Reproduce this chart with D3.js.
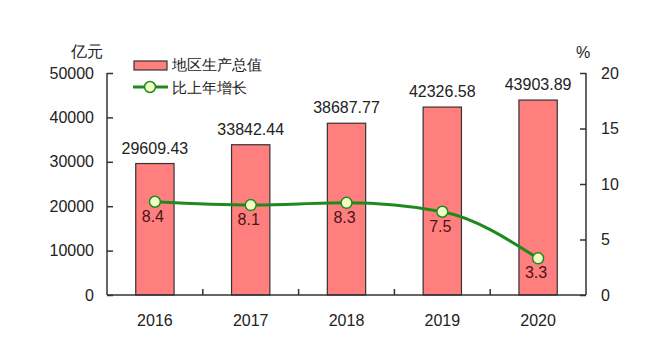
<!DOCTYPE html>
<html><head><meta charset="utf-8">
<script src="https://cdn.jsdelivr.net/npm/d3@7"></script>
<style>body{margin:0;background:#fff;}svg{display:block;font-family:"Liberation Sans",Arial,sans-serif;}</style>
</head><body>
<script>
const years = ["2016","2017","2018","2019","2020"];
const gdp = [29609.43, 33842.44, 38687.77, 42326.58, 43903.89];
const growth = [8.4, 8.1, 8.3, 7.5, 3.3];
const leftTicks = [0,10000,20000,30000,40000,50000];
const rightTicks = [0,5,10,15,20];

const W = 648, H = 359;
const svg = d3.select("body").append("svg").attr("width", W).attr("height", H);
const x0 = 107, x1 = 586, yTop = 73, yBot = 295;
const x = d3.scaleBand().domain(years).range([x0, x1]).paddingInner(0.6).paddingOuter(0.3);
const xb = d3.scaleBand().domain(years).range([x0, x1]);
const yL = d3.scaleLinear().domain([0, 50000]).range([yBot, yTop]);
const yR = d3.scaleLinear().domain([0, 20]).range([yBot, yTop]);
const ink = "#333";

// bars
svg.append("g").selectAll("rect").data(years).join("rect")
  .attr("x", d => x(d)).attr("width", x.bandwidth())
  .attr("y", (d,i) => yL(gdp[i])).attr("height", (d,i) => yBot - yL(gdp[i]))
  .attr("fill", "#ff7f7f").attr("stroke", ink).attr("stroke-width", 1.2);

svg.append("g").selectAll("text").data(years).join("text")
  .attr("x", d => x(d) + x.bandwidth()/2).attr("y", (d,i) => yL(gdp[i]) - 10)
  .attr("text-anchor","middle").attr("font-size",16).attr("fill","#222")
  .text((d,i) => gdp[i].toFixed(2));

// axes
const axL = svg.append("g").attr("transform",`translate(${x0},0)`)
  .call(d3.axisLeft(yL).tickValues(leftTicks).tickSize(-6).tickPadding(13).tickFormat(d3.format("d")));
const axR = svg.append("g").attr("transform",`translate(${x1},0)`)
  .call(d3.axisRight(yR).tickValues(rightTicks).tickSize(-6).tickPadding(15));
const axB = svg.append("g").attr("transform",`translate(0,${yBot})`)
  .call(d3.axisBottom(xb).tickSize(0).tickPadding(20));
[axL, axR, axB].forEach(a => {
  a.select(".domain").attr("stroke", ink).attr("stroke-width", 1.5);
  a.selectAll(".tick line").attr("stroke", ink).attr("stroke-width", 1.5);
  a.selectAll("text").attr("font-size", 16).attr("fill", "#222").attr("font-family","Liberation Sans, Arial, sans-serif");
});
axL.select(".domain").attr("d", `M0,${yTop}V${yBot}`);
axR.select(".domain").attr("d", `M0,${yTop}V${yBot}`);
axB.select(".domain").attr("d", `M${x0},0H${x1}`);
// category separators
svg.append("g").selectAll("line").data(years.slice(1)).join("line")
  .attr("x1", d => xb(d)).attr("x2", d => xb(d)).attr("y1", yBot).attr("y2", yBot - 6)
  .attr("stroke", ink).attr("stroke-width", 1.5);

// line
const cx = d => x(d) + x.bandwidth()/2;
svg.append("path").datum(years)
  .attr("d", d3.line().x(cx).y((d,i) => yR(growth[i])).curve(d3.curveMonotoneX))
  .attr("fill","none").attr("stroke","#1e8a1e").attr("stroke-width",3);
svg.append("g").selectAll("circle").data(years).join("circle")
  .attr("cx", cx).attr("cy", (d,i) => yR(growth[i])).attr("r", 5.5)
  .attr("fill", "#f2ffc4").attr("stroke", "#1e8a1e").attr("stroke-width", 1.5);
svg.append("g").selectAll("text").data(years).join("text")
  .attr("x", d => cx(d) - 2).attr("y", (d,i) => yR(growth[i]) + 20)
  .attr("text-anchor","middle").attr("font-size",16).attr("fill","#4a1418")
  .text((d,i) => growth[i].toFixed(1));

// axis titles
svg.append("text").attr("x", 71).attr("y", 57).attr("font-size", 16).attr("fill","#222").text("亿元");
svg.append("text").attr("x", 576).attr("y", 58).attr("font-size", 16).attr("fill","#222").text("%");

// legend
const lg = svg.append("g").attr("font-size", 15).attr("fill", "#222");
lg.append("rect").attr("x",134).attr("y",61).attr("width",33).attr("height",9)
  .attr("fill","#ff7f7f").attr("stroke",ink).attr("stroke-width",1.2);
lg.append("text").attr("x",172).attr("y",70).text("地区生产总值");
lg.append("line").attr("x1",133).attr("x2",168).attr("y1",87).attr("y2",87)
  .attr("stroke","#1e8a1e").attr("stroke-width",3);
lg.append("circle").attr("cx",150).attr("cy",87).attr("r",5.5)
  .attr("fill","#f2ffc4").attr("stroke","#1e8a1e").attr("stroke-width",1.5);
lg.append("text").attr("x",172).attr("y",93).text("比上年增长");
</script>
</body></html>
